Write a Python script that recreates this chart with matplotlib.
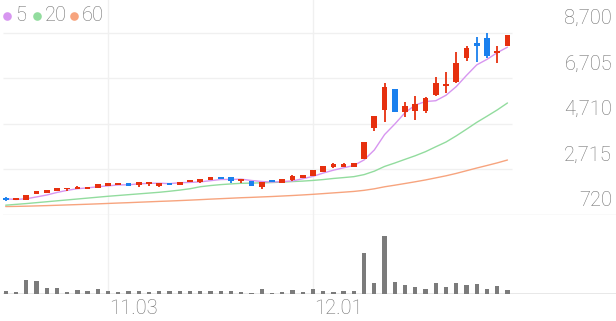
import matplotlib
matplotlib.use('Agg')
import matplotlib.pyplot as plt
from matplotlib.lines import Line2D
import numpy as np

# ---------------- data ----------------
tick_idx = [10, 30]
tick_labels = ['11.03', '12.01']

opens = [1486, 1390, 1377, 1626, 1696, 1770, 1845, 1858, 1858, 1902,
         2003, 2047, 2110, 2020, 2077, 2003, 2134, 2033, 2151, 2164,
         2252, 2397, 2370, 2195, 2208, 1959, 2266, 2134, 2252, 2326,
         2427, 2615, 2834, 2834, 2834, 3158, 4540, 5316, 6250, 5215,
         5260, 5260, 5972, 6375, 6533, 7605, 8235, 8454, 7811, 8130]
closes = [1355, 1451, 1582, 1770, 1814, 1915, 1915, 1946, 1946, 2064,
          2107, 2121, 1970, 2164, 2164, 2134, 2033, 2164, 2239, 2282,
          2397, 2282, 2195, 2282, 2000, 2178, 2151, 2309, 2414, 2484,
          2690, 2878, 2939, 2939, 2996, 3902, 5060, 6309, 5242, 5491,
          5563, 5828, 6485, 6441, 7386, 8016, 8130, 7693, 7898, 8599]
highs = [1490, 1451, 1600, 1770, 1814, 1915, 1915, 2004, 1946, 2064,
         2107, 2121, 2110, 2164, 2164, 2134, 2134, 2164, 2239, 2282,
         2397, 2397, 2370, 2282, 2208, 2178, 2266, 2309, 2484, 2484,
         2690, 2878, 2997, 2990, 2996, 3902, 5060, 6511, 6250, 5660,
         5935, 5898, 6773, 6992, 7868, 8130, 8524, 8700, 8130, 8620]
lows = [1350, 1390, 1360, 1626, 1696, 1770, 1784, 1858, 1858, 1902,
        2003, 2047, 1970, 1932, 1989, 1932, 2033, 2033, 2151, 2106,
        2252, 2282, 2106, 2108, 2000, 1858, 2151, 2134, 2195, 2326,
        2427, 2615, 2791, 2800, 2834, 3158, 4380, 4804, 5242, 4990,
        4900, 5205, 5910, 6060, 6485, 7461, 7430, 7605, 7360, 8130]
volumes = [270, 170, 1400, 1330, 570, 630, 200, 430, 330, 500,
           270, 200, 330, 300, 230, 270, 300, 270, 330, 270,
           270, 270, 270, 170, 130, 470, 130, 230, 400, 230,
           530, 330, 230, 270, 270, 4130, 1070, 5800, 1230, 900,
           700, 500, 1070, 700, 1070, 930, 1030, 470, 770, 370]
ma5 = [1430, 1400, 1430, 1510, 1594, 1706, 1799, 1872, 1907, 1957,
       1996, 2037, 2042, 2085, 2105, 2111, 2093, 2132, 2147, 2170,
       2223, 2273, 2279, 2288, 2231, 2187, 2161, 2184, 2210, 2307,
       2410, 2555, 2681, 2786, 2888, 3131, 3567, 4241, 4702, 5201,
       5533, 5687, 5722, 5962, 6341, 6831, 7292, 7533, 7825, 8067]
ma20 = [1150, 1185, 1220, 1260, 1300, 1340, 1380, 1420, 1460, 1500,
        1540, 1575, 1610, 1645, 1680, 1715, 1760, 1810, 1870, 1957,
        2009, 2050, 2081, 2107, 2116, 2129, 2141, 2159, 2183, 2204,
        2233, 2271, 2319, 2358, 2399, 2488, 2639, 2846, 2996, 3157,
        3315, 3493, 3707, 3915, 4184, 4476, 4775, 5044, 5319, 5624]
ma60 = [1090, 1097, 1106, 1118, 1131, 1146, 1161, 1176, 1191, 1208,
        1226, 1244, 1260, 1279, 1297, 1316, 1332, 1351, 1371, 1392,
        1415, 1435, 1455, 1476, 1492, 1511, 1529, 1551, 1573, 1598,
        1625, 1656, 1688, 1719, 1752, 1800, 1867, 1955, 2025, 2099,
        2175, 2255, 2345, 2436, 2541, 2658, 2776, 2887, 3001, 3127]
y_ticks = [720, 2715, 4710, 6705, 8700]
y_tick_labels = ['720', '2,715', '4,710', '6,705', '8,700']
legend_labels = ['5', '20', '60']

# ---------------- style ----------------
W, H, DPI = 616, 321, 100
RED = '#e6300f'
BLUE = '#1a80ee'
MA_COLORS = ['#d796f0', '#92dc9e', '#f7a47e']
TXT = '#707070'
GRID = '#f0f0f0'
AXLINE = '#e4e4e4'
FONT = 'Roboto'
FS = 14.5
FW = 'light'

plt.rcParams['font.family'] = [FONT, 'DejaVu Sans']

fig = plt.figure(figsize=(W / DPI, H / DPI), dpi=DPI)
fig.patch.set_facecolor('white')

# pixel geometry
x0_px, step_px = 5.7, 10.24
left_px = 3
price_top_px, price_bot_px = 0, 215
vol_bot_px = 294
grid_right_px = 512
px_per_val = (215 - 32.7) / (8700 - 720)

xl = (left_px - x0_px) / step_px
xr = (W - x0_px) / step_px
grid_right_idx = (grid_right_px - x0_px) / step_px

ax = fig.add_axes([left_px / W, (H - price_bot_px) / H, (W - left_px) / W,
                   (price_bot_px - price_top_px) / H])
axv = fig.add_axes([left_px / W, (H - vol_bot_px) / H, (W - left_px) / W,
                    (vol_bot_px - price_bot_px) / H])

for a in (ax, axv):
    for s in a.spines.values():
        s.set_visible(False)
    a.set_xticks([])
    a.set_yticks([])
    a.set_xlim(xl, xr)
    a.patch.set_alpha(0)

ymin = 720
ymax = 720 + (price_bot_px - price_top_px) / px_per_val
ax.set_ylim(ymin, ymax)

n = len(closes)
x = np.arange(n)

# grid lines
ax.hlines(y_ticks[1:], xl, grid_right_idx, color=GRID, lw=1.0, zorder=0)
ax.axhline(y_ticks[0], color=AXLINE, lw=1.0, zorder=0)
for ti in tick_idx:
    ax.axvline(ti, color=GRID, lw=1.0, zorder=0)
    axv.axvline(ti, color=GRID, lw=1.0, zorder=0)

# moving averages
for ma, c in zip([ma60, ma20, ma5], MA_COLORS[::-1]):
    ax.plot(x, ma, color=c, lw=1.0, zorder=2, solid_capstyle='round')

# candles
o = np.array(opens, float)
c = np.array(closes, float)
h = np.array(highs, float)
l = np.array(lows, float)
cols = [RED if cc >= oo else BLUE for oo, cc in zip(o, c)]
body_lo = np.minimum(o, c)
body_h = np.maximum(np.abs(c - o), 1.6 / px_per_val)
ax.vlines(x, l, h, colors=cols, lw=1.3, zorder=3)
ax.bar(x, body_h, bottom=body_lo, width=0.56, color=cols, zorder=4, lw=0)

# volume
vmax = 5800 * (vol_bot_px - price_bot_px) / 58.0
axv.set_ylim(0, vmax)
axv.bar(x, volumes, width=0.42, color='#7b7b7b', lw=0, zorder=3)
axv.axhline(0, color=AXLINE, lw=1.2, zorder=2)

# y tick labels (right side, above grid line)
lab_x = (612 - x0_px) / step_px
for v, s in zip(y_ticks, y_tick_labels):
    ax.annotate(s, xy=(lab_x, v), xytext=(0, 14 * 72 / DPI), textcoords='offset points',
                ha='right', va='center', fontsize=FS, color=TXT, family=FONT,
                fontweight=FW)

# x tick labels
for ti, s in zip(tick_idx, tick_labels):
    axv.annotate(s, xy=(ti, 0), xytext=(1.0 * 72 / DPI, -15 * 72 / DPI),
                 textcoords='offset points', ha='left', va='center',
                 fontsize=FS, color=TXT, family=FONT, fontweight=FW)

# legend
leg_y = 1 - 15.7 / H
circ_x = [6.7, 36.7, 74.0]
txt_x = [15.0, 45.0, 82.0]
for cx, tx, col, s in zip(circ_x, txt_x, MA_COLORS, legend_labels):
    fig.add_artist(Line2D([cx / W], [leg_y], marker='o', markersize=6.2,
                          color=col, markeredgewidth=0, transform=fig.transFigure))
    fig.text(tx / W, leg_y, s, ha='left', va='center', fontsize=FS, color=TXT,
             family=FONT, fontweight=FW)

fig.savefig('out.png', dpi=DPI, facecolor='white')
